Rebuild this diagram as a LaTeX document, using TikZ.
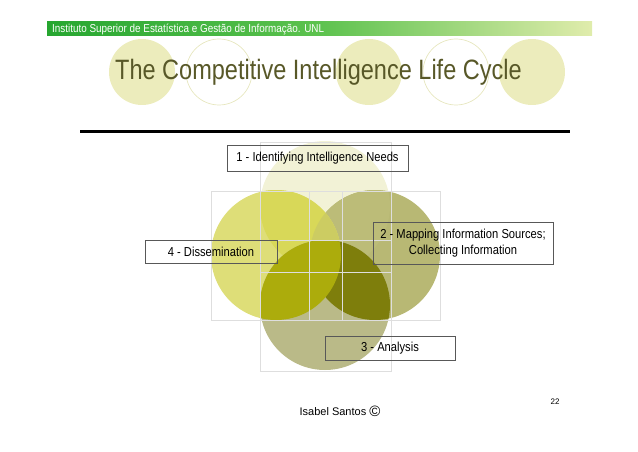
\documentclass[tikz,border=0pt]{standalone}
\usepackage{fontspec}
\setmainfont{Liberation Sans}
\newfontfamily\narrowfont[FakeStretch=0.86]{Liberation Sans}
\newfontfamily\titlefont[FakeStretch=0.84]{Liberation Sans}
\usepackage{xcolor}
\usepackage{tikz}
\definecolor{hdrgreen}{RGB}{38,166,48}
\definecolor{hdrmid}{RGB}{92,194,78}
\definecolor{hdrpale}{RGB}{224,236,172}
\definecolor{dotfill}{RGB}{236,236,188}
\definecolor{ringline}{RGB}{230,230,190}
\definecolor{titleolive}{RGB}{88,88,40}
\definecolor{needsfill}{RGB}{242,242,214}
\definecolor{mapfill}{RGB}{184,184,116}
\definecolor{mapneeds}{RGB}{188,188,120}
\definecolor{dissfill}{RGB}{222,222,120}
\definecolor{dissneeds}{RGB}{216,216,88}
\definecolor{dissmap}{RGB}{204,204,98}
\definecolor{anafill}{RGB}{186,186,136}
\definecolor{anamap}{RGB}{126,126,12}
\definecolor{anadiss}{RGB}{172,172,12}
\definecolor{framegray}{RGB}{222,222,222}
\definecolor{boxgray}{RGB}{88,88,88}
\tikzset{
  lifebox/.style={
    rectangle,
    draw=boxgray,
    line width=0.8pt,
    align=center,
    inner sep=0pt,
    font=\narrowfont\fontsize{13}{16}\selectfont
  },
  lifeframe/.style={
    draw=framegray,
    line width=0.4pt
  },
  titledot/.style={
    circle,
    fill=dotfill,
    minimum size=66pt,
    inner sep=0pt
  },
  titlering/.style={
    circle,
    draw=ringline,
    line width=0.7pt,
    minimum size=66pt,
    inner sep=0pt
  }
}

\begin{document}
\begin{tikzpicture}[x=1pt, y=-1pt]
\useasboundingbox (0,0) rectangle (638,452);

% header bar
\shade[left color=hdrgreen, right color=hdrpale, middle color=hdrmid] (47,22) rectangle (592,36);
\node[anchor=base west, inner sep=0pt, text=white, font=\narrowfont\fontsize{11.5}{13}\selectfont] (inst) at (52,33) {Instituto Superior de Estatística e Gestão de Informação. UNL};

% title row
\node[titledot] (dotA) at (142,72) {};
\node[titlering] (ringA) at (219,72) {};
\node[titledot] (dotB) at (369,72) {};
\node[titlering] (ringB) at (456,72) {};
\node[titledot] (dotC) at (532,72) {};
\node[anchor=base west, inner sep=0pt, text=titleolive, font=\titlefont\fontsize{28}{32}\selectfont] (title) at (115,80) {The Competitive Intelligence Life Cycle};

\draw[line width=3pt] (80,132) -- (570,132);

% venn circles
\coordinate (cNeeds) at (325,206);
\coordinate (cMap) at (375,255);
\coordinate (cAna) at (325,305);
\coordinate (cDiss) at (276,255);

\fill[needsfill] (cNeeds) circle[radius=65pt];
\fill[mapfill] (cMap) circle[radius=65pt];
\begin{scope}
  \clip (cNeeds) circle[radius=65pt];
  \fill[mapneeds] (cMap) circle[radius=65pt];
\end{scope}
\fill[dissfill] (cDiss) circle[radius=65pt];
\begin{scope}
  \clip (cDiss) circle[radius=65pt];
  \fill[dissneeds] (cNeeds) circle[radius=65pt];
  \fill[dissmap] (cMap) circle[radius=65pt];
\end{scope}
\fill[anafill] (cAna) circle[radius=65pt];
\begin{scope}
  \clip (cAna) circle[radius=65pt];
  \fill[anamap] (cMap) circle[radius=65pt];
  \fill[anadiss] (cDiss) circle[radius=65pt];
\end{scope}

% frames
\draw[lifeframe] (260,142) rectangle (391,272);
\draw[lifeframe] (211,191) rectangle (342,320);
\draw[lifeframe] (309,191) rectangle (440,320);
\draw[lifeframe] (260,240) rectangle (391,371);

% labels
\node[lifebox, minimum width=181pt, minimum height=26pt] (needs) at (317.5,158) {1 - Identifying Intelligence Needs};
\node[lifebox, minimum width=180pt, minimum height=42pt] (mapping) at (463,243) {2 - Mapping Information Sources;\\Collecting Information};
\node[lifebox, minimum width=130pt, minimum height=24pt] (analysis) at (390,348) {3 - Analysis};
\node[lifebox, minimum width=132pt, minimum height=23pt] (dissem) at (211,251.5) {4 - Dissemination};

% footer
\node[inner sep=0pt, font=\fontsize{11}{13}\selectfont] (author) at (340,411) {Isabel Santos {\fontsize{15}{15}\selectfont\raisebox{-0.5pt}{©}}};
\node[inner sep=0pt, font=\fontsize{8}{10}\selectfont] (page) at (555,402) {22};
\end{tikzpicture}
\end{document}
